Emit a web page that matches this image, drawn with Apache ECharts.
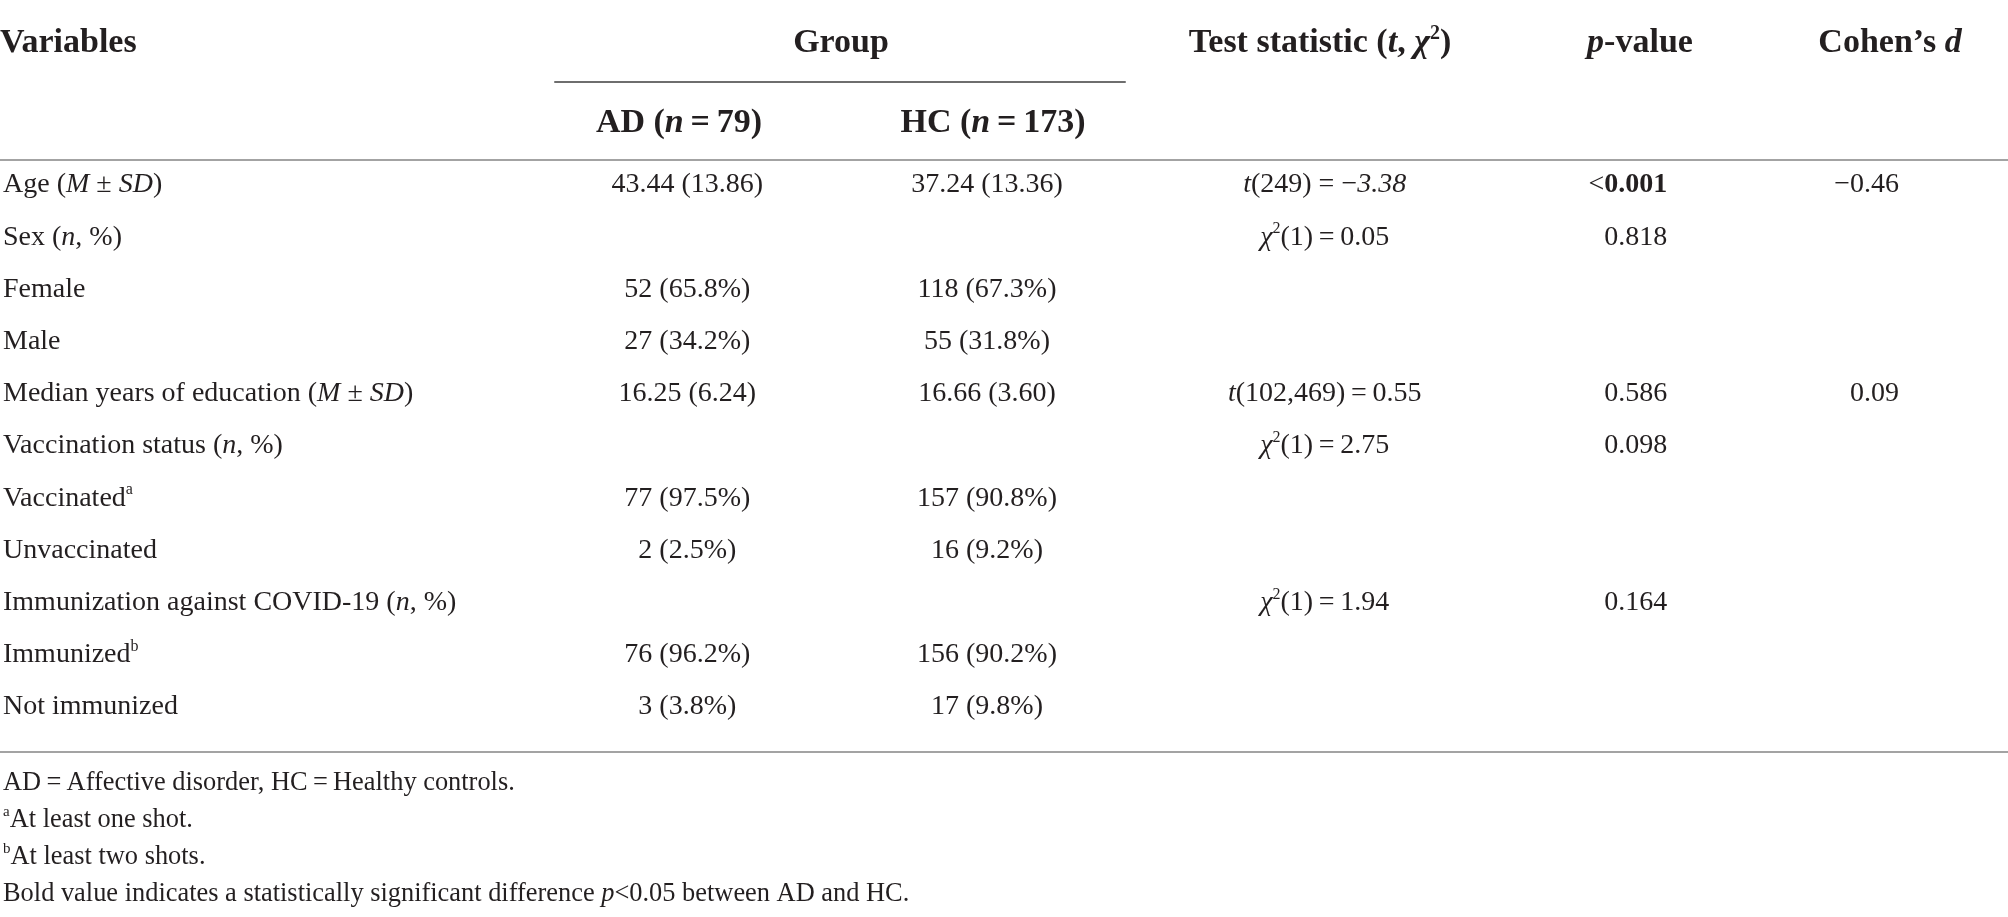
<!DOCTYPE html>
<html>
<head>
<meta charset="utf-8">
<title>Demographics table</title>
<script src="https://cdn.jsdelivr.net/npm/echarts@6/dist/echarts.min.js"></script>
<style>
  html, body { margin: 0; padding: 0; background: #ffffff; }
  #table { width: 2008px; height: 917px; }
</style>
</head>
<body>
<div id="table"></div>
<script>
// --- table content (rich markup: {i|..} italic, {b|..} bold, {sup|..} superscript) ---
var headerTop = ['Variables', 'Group', 'Test statistic ({bi|t}, {bi|χ}{bsup|2})', '{bi|p}-value', 'Cohen’s {bi|d}'];
var headerSub = ['AD ({bi|n}\u2009=\u200979)', 'HC ({bi|n}\u2009=\u2009173)'];

var rowLabels = [
    'Age ({i|M} ± {i|SD})',
    'Sex ({i|n}, %)',
    'Female',
    'Male',
    'Median years of education ({i|M} ± {i|SD})',
    'Vaccination status ({i|n}, %)',
    'Vaccinated{sup|a}',
    'Unvaccinated',
    'Immunization against COVID-19 ({i|n}, %)',
    'Immunized{sup|b}',
    'Not immunized'
];
var adValues = ['43.44 (13.86)', '', '52 (65.8%)', '27 (34.2%)', '16.25 (6.24)', '', '77 (97.5%)', '2 (2.5%)', '', '76 (96.2%)', '3 (3.8%)'];
var hcValues = ['37.24 (13.36)', '', '118 (67.3%)', '55 (31.8%)', '16.66 (3.60)', '', '157 (90.8%)', '16 (9.2%)', '', '156 (90.2%)', '17 (9.8%)'];
var testStats = [
    '{i|t}(249) = −{i|3.38}',
    '{i|χ}{sup|2}(1)\u2009=\u20090.05',
    '', '',
    '{i|t}(102,469)\u2009=\u20090.55',
    '{i|χ}{sup|2}(1)\u2009=\u20092.75',
    '', '',
    '{i|χ}{sup|2}(1)\u2009=\u20091.94',
    '', ''
];
var pValues = ['<{b|0.001}', '0.818', '', '', '0.586', '0.098', '', '', '0.164', '', ''];
var cohensD = ['−0.46', '', '', '', '0.09', '', '', '', '', '', ''];

var footnotes = [
    'AD\u2009=\u2009Affective disorder, HC\u2009=\u2009Healthy controls.',
    '{sup|a}At least one shot.',
    '{sup|b}At least two shots.',
    'Bold value indicates a statistically significant difference {i|p}<0.05 between AD and HC.'
];

// --- layout ---
var FONT = 'Liberation Serif';
var INK = '#231f20';
var headX = [0, 841, 1320, 1640, 1890];
var subX = [679, 993];
var colX = { ad: 686, hc: 986, test: 1324, p: 1667, d: 1899 };

function makeRich(size, bold) {
    var w = bold ? 'bold' : 'normal';
    var base = { fontFamily: FONT, fontSize: size, color: INK, lineHeight: size + 4 };
    var supSize = Math.round(size * 0.58);
    return {
        i: Object.assign({}, base, { fontStyle: 'italic', fontWeight: w }),
        b: Object.assign({}, base, { fontWeight: 'bold' }),
        bi: Object.assign({}, base, { fontStyle: 'italic', fontWeight: 'bold' }),
        sup: Object.assign({}, base, { fontSize: supSize, fontWeight: 'normal', lineHeight: supSize + 2, verticalAlign: 'top' }),
        bsup: Object.assign({}, base, { fontSize: supSize, fontWeight: 'bold', lineHeight: supSize + 2, verticalAlign: 'top' })
    };
}

function textSeries(gridIdx, items, size, bold, align) {
    return {
        type: 'scatter',
        xAxisIndex: gridIdx,
        yAxisIndex: gridIdx,
        symbolSize: 1,
        itemStyle: { color: 'transparent', opacity: 1 },
        silent: true,
        data: items,
        label: {
            show: true,
            position: 'inside',
            align: align,
            verticalAlign: 'middle',
            formatter: function (p) { return p.name; },
            fontFamily: FONT,
            fontSize: size,
            fontWeight: bold ? 'bold' : 'normal',
            color: INK,
            opacity: 1,
            lineHeight: size + 4,
            rich: makeRich(size, bold)
        }
    };
}

function column(values, x) {
    var out = [];
    values.forEach(function (t, i) {
        if (t) out.push({ name: t, value: [x, i] });
    });
    return out;
}

var hiddenX = { type: 'value', min: 0, max: 2008, show: false };
function ruleAxis(color, width) {
    return {
        type: 'value', position: 'top', min: 0, max: 1,
        axisLine: { show: true, onZero: false, lineStyle: { color: color, width: width } },
        axisTick: { show: false }, axisLabel: { show: false }, splitLine: { show: false }
    };
}
var hiddenY = { type: 'value', show: false };

function labelAxis(gridIdx, labels, size) {
    return {
        gridIndex: gridIdx, type: 'category', inverse: true, data: labels,
        axisLine: { show: false }, axisTick: { show: false }, splitLine: { show: false },
        axisLabel: {
            inside: true, margin: 1, interval: 0, align: 'left',
            fontFamily: FONT, fontSize: size, color: INK, lineHeight: size + 4,
            rich: makeRich(size, false)
        }
    };
}

var chart = echarts.init(document.getElementById('table'), null, { renderer: 'canvas' });

var option = {
    backgroundColor: '#ffffff',
    animation: false,
    grid: [
        { left: 0, right: 0, top: 3, height: 160 },     // header rows
        { left: 0, right: 0, top: 159, height: 574 },   // body rows
        { left: 0, right: 0, top: 764, height: 149 },   // footnotes
        { left: 0, right: 0, top: 160, height: 1 },     // top rule
        { left: 0, right: 0, top: 752, height: 1 },     // bottom rule
        { left: 555, width: 570, top: 82, height: 1 }   // group rule
    ],
    xAxis: [
        hiddenX, hiddenX, hiddenX,
        ruleAxis('#a3a3a3', 2),
        ruleAxis('#a3a3a3', 2),
        ruleAxis('#6e6e6e', 2)
    ].map(function (a, i) { return Object.assign({}, a, { gridIndex: i }); }),
    yAxis: [
        { gridIndex: 0, type: 'category', inverse: true, data: ['top', 'sub'], show: false },
        labelAxis(1, rowLabels, 28),
        labelAxis(2, footnotes, 26.4),
        Object.assign({ gridIndex: 3 }, hiddenY),
        Object.assign({ gridIndex: 4 }, hiddenY),
        Object.assign({ gridIndex: 5 }, hiddenY)
    ],
    series: [
        textSeries(0, [{ name: headerTop[0], value: [headX[0], 0] }], 34, true, 'left'),
        textSeries(0, headerTop.slice(1).map(function (t, i) {
            return { name: t, value: [headX[i + 1], 0] };
        }), 34, true, 'center'),
        textSeries(0, headerSub.map(function (t, i) {
            return { name: t, value: [subX[i], 1] };
        }), 34, true, 'center'),
        textSeries(1, column(adValues, colX.ad), 28, false, 'center'),
        textSeries(1, column(hcValues, colX.hc), 28, false, 'center'),
        textSeries(1, column(testStats, colX.test), 28, false, 'center'),
        textSeries(1, column(pValues, colX.p), 28, false, 'right'),
        textSeries(1, column(cohensD, colX.d), 28, false, 'right')
    ]
};

chart.setOption(option);
window.addEventListener('resize', function () { chart.resize(); });
</script>
</body>
</html>
